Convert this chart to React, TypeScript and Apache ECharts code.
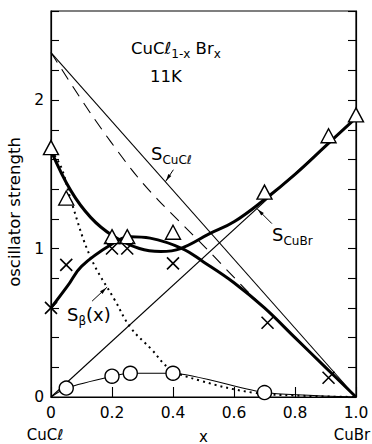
import React, { useEffect, useRef } from 'react';
import * as echarts from 'echarts';

// ---- data ----
const xTickValues = [0, 0.2, 0.4, 0.6, 0.8, 1.0];
const yLabelValues = [0, 1, 2];

const triangles: [number, number][] = [
  [0, 1.68], [0.05, 1.34], [0.2, 1.08], [0.25, 1.08], [0.4, 1.11], [0.7, 1.38], [0.91, 1.76], [1.0, 1.9],
];
const crosses: [number, number][] = [
  [0, 0.6], [0.05, 0.89], [0.2, 1.0], [0.25, 1.0], [0.4, 0.9], [0.71, 0.5], [0.91, 0.13],
];
const circles: [number, number][] = [
  [0.05, 0.06], [0.2, 0.14], [0.26, 0.16], [0.4, 0.16], [0.7, 0.03],
];
const circleLine: [number, number][] = [
  [0, 0], [0.05, 0.06], [0.2, 0.14], [0.26, 0.16], [0.4, 0.16], [0.7, 0.03], [1.0, 0],
];
const sCuCl: [number, number][] = [[0, 2.32], [1.0, 0]];
const sCuBr: [number, number][] = [[0, 0], [1.0, 1.88]];
const dashedCurve: [number, number][] = [
  [0, 2.32], [0.13, 1.91], [0.265, 1.53], [0.35, 1.33], [0.5, 1.02], [0.65, 0.7], [0.8, 0.4], [0.9, 0.2], [1.0, 0],
];
const upperBranch: [number, number][] = [
  [0, 1.66], [0.065, 1.39], [0.13, 1.21], [0.2, 1.09], [0.29, 1.0], [0.36, 0.98], [0.425, 1.0],
  [0.52, 1.1], [0.6, 1.18], [0.7, 1.33], [0.8, 1.5], [0.9, 1.69], [1.0, 1.88],
];
const lowerBranch: [number, number][] = [
  [0, 0.6], [0.055, 0.75], [0.1, 0.88], [0.2, 1.03], [0.26, 1.08], [0.325, 1.07], [0.43, 1.0],
  [0.5, 0.91], [0.6, 0.77], [0.7, 0.6], [0.8, 0.4], [0.9, 0.2], [1.0, 0],
];
const sBeta: [number, number][] = [
  [0, 1.66], [0.033, 1.55], [0.066, 1.32], [0.13, 0.94], [0.21, 0.65], [0.26, 0.47], [0.33, 0.32],
  [0.39, 0.19], [0.49, 0.11], [0.66, 0.03], [0.8, 0.01], [1.0, 0],
];

const FONT = "'DejaVu Sans', 'Liberation Sans', sans-serif";
const BLACK = '#000';

export default function App() {
  const ref = useRef<HTMLDivElement>(null);
  useEffect(() => {
    const chart = echarts.init(ref.current!, null, { renderer: 'svg' });
    const near = (v: number, t: number) => Math.abs(v - t) < 1e-6;
    const thin = (data: [number, number][], extra: any = {}) => ({
      type: 'line', data, showSymbol: false, symbol: 'none', silent: true, clip: false,
      lineStyle: { color: BLACK, width: 1.1, ...(extra.lineStyle || {}) },
      smooth: extra.smooth ?? false, z: 2,
    });
    chart.setOption({
      animation: false,
      backgroundColor: '#fff',
      grid: {
        left: 51, right: 16, top: 11, bottom: 47, show: true, borderColor: BLACK, borderWidth: 1.2,
        backgroundColor: 'transparent', containLabel: false, outerBoundsMode: 'none',
      },
      xAxis: {
        type: 'value', min: 0, max: 1, interval: 0.2,
        axisLine: { lineStyle: { color: BLACK, width: 1.2 } },
        axisTick: { inside: true, length: 10, lineStyle: { color: BLACK, width: 1.1 } },
        splitLine: { show: false },
        axisLabel: {
          color: BLACK, fontSize: 15.5, fontFamily: FONT, margin: 8,
          formatter: (v: number) => {
            const t = xTickValues.find((q) => near(v, q));
            if (t === undefined) return '';
            return t === 0 ? '0' : t.toFixed(1);
          },
        },
        name: 'x', nameLocation: 'middle', nameGap: 32,
        nameTextStyle: { color: BLACK, fontSize: 15, fontFamily: FONT },
      },
      yAxis: [
        {
          type: 'value', min: 0, max: 2.6, interval: 0.2,
          axisLine: { show: true, lineStyle: { color: BLACK, width: 1.2 } },
          axisTick: { show: true, inside: true, length: 8, lineStyle: { color: BLACK, width: 1.1 } },
          splitLine: { show: false },
          axisLabel: {
            color: BLACK, fontSize: 15.5, fontFamily: FONT, margin: 7,
            formatter: (v: number) => {
              const t = yLabelValues.find((q) => near(v, q));
              return t === undefined ? '' : String(t);
            },
          },
          name: 'oscillator strength', nameLocation: 'middle', nameGap: 21, nameRotate: 90,
          nameTextStyle: { color: BLACK, fontSize: 16.5, fontFamily: FONT, padding: [0, 16, 0, 0] },
        },
        {
          type: 'value', position: 'right', min: 0, max: 2.6, interval: 0.2,
          axisLine: { show: true, lineStyle: { color: BLACK, width: 1.2 } },
          axisTick: { show: true, inside: true, length: 8, lineStyle: { color: BLACK, width: 1.1 } },
          axisLabel: { show: false }, splitLine: { show: false },
        },
      ],
      series: [
        { name: 'S_CuCl', ...thin(sCuCl) },
        { name: 'dashed', ...thin(dashedCurve, { smooth: 0.3, lineStyle: { type: [12, 8], width: 1.1 } }) },
        { name: 'S_CuBr', ...thin(sCuBr) },
        { name: 'upper', ...thin(upperBranch, { smooth: 0.4, lineStyle: { width: 3 } }) },
        { name: 'lower', ...thin(lowerBranch, { smooth: 0.4, lineStyle: { width: 3 } }) },
        { name: 'S_beta', ...thin(sBeta, { smooth: 0.4, lineStyle: { type: [2, 4], width: 2 } }) },
        { name: 'circleLine', ...thin(circleLine, { smooth: 0.2 }) },
        {
          name: 'triangles', type: 'scatter', data: triangles, symbol: 'triangle', symbolSize: [15, 14], clip: false, z: 5,
          itemStyle: { color: '#fff', borderColor: BLACK, borderWidth: 1.4, opacity: 1 },
        },
        {
          name: 'crosses', type: 'scatter', data: crosses, symbol: 'path://M0,0L10,10M0,10L10,0', symbolSize: 12, clip: false, z: 5,
          itemStyle: { color: 'none', borderColor: BLACK, borderWidth: 1.6, opacity: 1 },
        },
        {
          name: 'circles', type: 'scatter', data: circles, symbol: 'circle', symbolSize: 14, clip: false, z: 5,
          itemStyle: { color: '#fff', borderColor: BLACK, borderWidth: 1.4, opacity: 1 },
        },
      ],
    });

    // annotations: arrows whose tips sit on the curves
    const P = (x: number, y: number) => chart.convertToPixel({ seriesIndex: 0 }, [x, y]) as number[];
    const arrow = (tip: number[], dx: number, dy: number) => {
      const tail = [tip[0] + dx, tip[1] + dy];
      const len = Math.hypot(dx, dy);
      const ux = dx / len, uy = dy / len;
      const bx = tip[0] + ux * 8, by = tip[1] + uy * 8;
      const px = -uy * 1.8, py = ux * 1.8;
      return [
        { type: 'line', shape: { x1: tail[0], y1: tail[1], x2: tip[0], y2: tip[1] }, style: { stroke: BLACK, lineWidth: 1 }, silent: true },
        { type: 'polygon', shape: { points: [[tip[0] + ux, tip[1] + uy], [bx + px, by + py], [bx - px, by - py]] }, style: { fill: BLACK }, silent: true },
      ];
    };
    const tipCl = P(0.375, 2.32 * (1 - 0.375));
    const tipBr = P(0.675, 1.88 * 0.675);
    const tipBeta = P(0.184, 0.74);
    const lbl = (left: number, top: number, text: string, rich: any) => ({
      type: 'text', left, top, silent: true,
      style: { text, rich, fill: BLACK, fontFamily: FONT },
    });
    const big = { fontSize: 18, lineHeight: 20, verticalAlign: 'top', fontFamily: FONT, fill: BLACK };
    const sub = { fontSize: 12, lineHeight: 13, padding: [10, 0, 0, 0], verticalAlign: 'top', fontFamily: FONT, fill: BLACK };
    const tBig = { fontSize: 16.5, lineHeight: 18, verticalAlign: 'top', fontFamily: FONT, fill: BLACK };
    const tSub = { fontSize: 12, lineHeight: 13, padding: [8, 0, 0, 0], verticalAlign: 'top', fontFamily: FONT, fill: BLACK };
    const x0 = P(0, 0), x1 = P(1, 0);
    chart.setOption({
      graphic: [
        ...arrow(tipCl, 8, -12),
        ...arrow(tipBr, 15, 15),
        ...arrow(tipBeta, -15, 14),
        lbl(131, 40, '{a|CuCℓ}{b|1-x}{a| Br}{b|x}', { a: tBig, b: tSub }),
        { type: 'text', left: 150, top: 68, silent: true, style: { text: '11K', fontSize: 16.5, fontFamily: FONT, fill: BLACK } },
        lbl(151, 144, '{a|S}{b|CuCℓ}', { a: big, b: sub }),
        lbl(272, 225, '{a|S}{b|CuBr}', { a: big, b: sub }),
        lbl(67, 305, '{a|S}{b|β}{a|(x)}', { a: big, b: sub }),
        { type: 'text', x: x0[0] - 6, y: 435, silent: true, style: { text: 'CuCℓ', fontSize: 15, fontFamily: FONT, fill: BLACK, align: 'center', verticalAlign: 'middle' } },
        { type: 'text', x: x1[0] - 4, y: 435, silent: true, style: { text: 'CuBr', fontSize: 15, fontFamily: FONT, fill: BLACK, align: 'center', verticalAlign: 'middle' } },
      ],
    });
    return () => chart.dispose();
  }, []);
  return <div ref={ref} style={{ position: 'fixed', left: 0, top: 0, width: 372, height: 444 }} />;
}
